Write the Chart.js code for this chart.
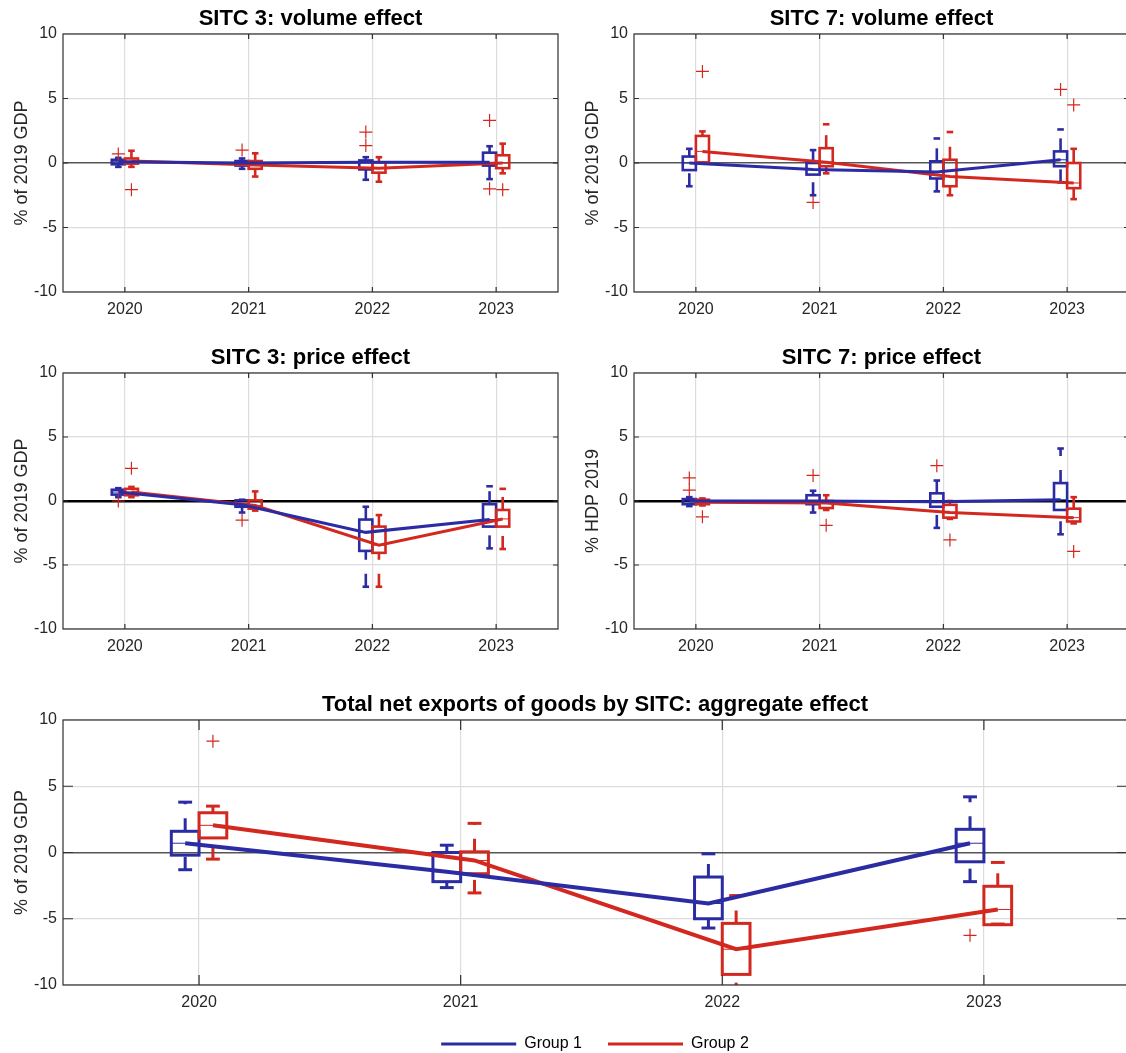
<!DOCTYPE html>
<html>
<head>
<meta charset="utf-8">
<script src="https://cdn.jsdelivr.net/npm/chart.js@4.4.1/dist/chart.umd.min.js"></script>
<style>
  html, body { margin: 0; padding: 0; background: #fff; overflow: hidden; width: 1126px; height: 1053px; }
  canvas { position: absolute; }
</style>
</head>
<body>
<canvas id="vol3" width="571" height="322" style="left:0;top:0"></canvas>
<canvas id="vol7" width="571" height="322" style="left:571px;top:0"></canvas>
<canvas id="price3" width="571" height="319" style="left:0;top:340px"></canvas>
<canvas id="price7" width="571" height="319" style="left:571px;top:340px"></canvas>
<canvas id="total" width="1190" height="372" style="left:0;top:690px"></canvas>
<script>
const years = [2020, 2021, 2022, 2023];
const groupNames = ["Group 1", "Group 2"];

// box stats per year: lower whisker, q1, median, q3, upper whisker
// SITC 3: volume effect
const vol3G1 = { lo: [-0.3, -0.45, -1.3, -1.25], q1: [-0.1, -0.2, -0.5, -0.2], med: [0.1, 0.0, 0.05, 0.05], q3: [0.25, 0.15, 0.2, 0.8], hi: [0.4, 0.35, 0.45, 1.3] };
const vol3G2 = { lo: [-0.3, -1.05, -1.45, -0.8], q1: [-0.05, -0.45, -0.75, -0.4], med: [0.15, -0.15, -0.4, 0.0], q3: [0.35, 0.15, 0.05, 0.6], hi: [0.95, 0.75, 0.45, 1.5] };
// outliers: [year, group index, value]
const vol3Out = [[2020, 0, 0.7], [2020, 1, -2.07], [2021, 0, 1.0], [2022, 0, 2.4], [2022, 0, 1.35], [2023, 0, 3.3], [2023, 0, -2.0], [2023, 1, -2.07]];

// SITC 7: volume effect
const vol7G1 = { lo: [-1.8, -2.5, -2.2, -1.5], q1: [-0.55, -0.9, -1.2, -0.25], med: [0.0, -0.5, -0.7, 0.25], q3: [0.5, 0.0, 0.13, 0.9], hi: [1.1, 1.0, 1.9, 2.6] };
const vol7G2 = { lo: [0.0, -0.8, -2.5, -2.8], q1: [0.05, -0.25, -1.8, -1.95], med: [0.9, 0.05, -1.05, -1.55], q3: [2.1, 1.15, 0.25, 0.0], hi: [2.45, 3.0, 2.4, 1.1] };
const vol7Out = [[2020, 1, 7.1], [2021, 0, -3.06], [2023, 0, 5.7], [2023, 1, 4.5]];

// SITC 3: price effect
const price3G1 = { lo: [0.3, -0.9, -6.7, -3.7], q1: [0.5, -0.45, -3.9, -2.0], med: [0.7, -0.3, -2.45, -1.45], q3: [0.88, 0.05, -1.45, -0.25], hi: [1.0, 0.1, -0.45, 1.15] };
const price3G2 = { lo: [0.3, -0.75, -6.7, -3.75], q1: [0.45, -0.6, -4.05, -2.0], med: [0.7, -0.35, -3.45, -1.4], q3: [0.95, 0.05, -2.0, -0.7], hi: [1.1, 0.75, -1.1, 0.95] };
const price3Out = [[2020, 0, 0.0], [2020, 1, 2.55], [2021, 0, -1.5]];

// SITC 7: price effect
const price7G1 = { lo: [-0.4, -0.9, -2.1, -2.6], q1: [-0.25, -0.25, -0.45, -0.7], med: [0.0, 0.0, -0.05, 0.1], q3: [0.15, 0.45, 0.6, 1.4], hi: [0.3, 0.8, 1.6, 4.1] };
const price7G2 = { lo: [-0.35, -0.7, -1.4, -1.75], q1: [-0.25, -0.55, -1.3, -1.6], med: [-0.1, -0.15, -0.9, -1.3], q3: [0.1, 0.0, -0.3, -0.6], hi: [0.2, 0.45, 0.0, 0.3] };
const price7Out = [[2020, 0, 1.8], [2020, 0, 0.85], [2020, 1, -1.24], [2021, 0, 2.0], [2021, 1, -1.9], [2022, 0, 2.76], [2022, 1, -3.04], [2023, 1, -3.94]];

// Total net exports of goods: aggregate effect
const totalG1 = { lo: [-1.3, -2.65, -5.7, -2.2], q1: [-0.2, -2.2, -5.0, -0.7], med: [0.7, -1.45, -3.85, 0.7], q3: [1.6, 0.0, -1.85, 1.75], hi: [3.8, 0.55, -0.1, 4.2] };
const totalG2 = { lo: [-0.5, -3.05, -10.8, -5.4], q1: [1.1, -1.6, -9.2, -5.45], med: [2.05, -0.6, -7.3, -4.3], q3: [3.0, 0.05, -5.35, -2.55], hi: [3.5, 2.2, -3.25, -0.75] };
const totalOut = [[2020, 1, 8.4], [2023, 0, -6.25]];

const COLORS = ["#2b2ba3", "#d3281f"];
const OUTLIER = "#d3281f";
const BOX_OFF = 0.053;
const BOX_HALF = 0.053;
const FONT = "'Liberation Sans', Arial, Helvetica, sans-serif";

Chart.defaults.font.family = FONT;
Chart.defaults.color = "#262626";

// draws boxes + dashed whiskers, then frame and inside ticks
function makeBoxPlugin(groups, lw, tickLen) {
    return {
        id: "boxes",
        beforeDatasetsDraw(chart) {
            const { ctx, chartArea: a, scales: { x, y } } = chart;
            const seg = (x1, y1, x2, y2) => {
                ctx.beginPath();
                ctx.moveTo(x1, y1);
                ctx.lineTo(x2, y2);
                ctx.stroke();
            };
            ctx.save();
            ctx.beginPath();
            ctx.rect(a.left, a.top, a.right - a.left, a.bottom - a.top);
            ctx.clip();
            groups.forEach((g, gi) => {
                const off = gi === 0 ? -BOX_OFF : BOX_OFF;
                ctx.strokeStyle = COLORS[gi];
                years.forEach((yr, i) => {
                    const cx = x.getPixelForValue(yr + off);
                    const hw = x.getPixelForValue(yr + off + BOX_HALF) - cx;
                    const pLo = y.getPixelForValue(g.lo[i]);
                    const pQ1 = y.getPixelForValue(g.q1[i]);
                    const pMed = y.getPixelForValue(g.med[i]);
                    const pQ3 = y.getPixelForValue(g.q3[i]);
                    const pHi = y.getPixelForValue(g.hi[i]);

                    ctx.lineWidth = lw;
                    ctx.lineCap = "butt";
                    ctx.setLineDash([13, 14]);
                    seg(cx, pLo, cx, pQ1);
                    seg(cx, pQ3, cx, pHi);
                    ctx.setLineDash([]);
                    seg(cx - hw / 2, pLo, cx + hw / 2, pLo);
                    seg(cx - hw / 2, pHi, cx + hw / 2, pHi);
                    ctx.strokeRect(cx - hw, pQ3, 2 * hw, pQ1 - pQ3);

                    ctx.lineWidth = 1;
                    seg(cx - hw, pMed, cx + hw, pMed);
                });
            });
            ctx.restore();
        },
        afterDraw(chart) {
            const { ctx, chartArea: a, scales: { x, y } } = chart;
            ctx.save();
            ctx.strokeStyle = "#303030";
            ctx.lineWidth = 1.2;
            ctx.strokeRect(a.left, a.top, a.right - a.left, a.bottom - a.top);
            ctx.beginPath();
            years.forEach(yr => {
                const px = x.getPixelForValue(yr);
                ctx.moveTo(px, a.bottom); ctx.lineTo(px, a.bottom - tickLen);
                ctx.moveTo(px, a.top); ctx.lineTo(px, a.top + tickLen);
            });
            [-5, 0, 5].forEach(v => {
                const py = y.getPixelForValue(v);
                ctx.moveTo(a.left, py); ctx.lineTo(a.left + tickLen, py);
                ctx.moveTo(a.right, py); ctx.lineTo(a.right - tickLen, py);
            });
            ctx.stroke();
            ctx.restore();
        }
    };
}

function makePanel(id, p) {
    const datasets = [p.g1, p.g2].map((g, gi) => ({
        label: groupNames[gi],
        data: years.map((yr, i) => ({ x: yr + (gi === 0 ? -BOX_OFF : BOX_OFF), y: g.med[i] })),
        borderColor: COLORS[gi],
        backgroundColor: COLORS[gi],
        borderWidth: p.lineW,
        pointRadius: 0,
        fill: false,
        tension: 0
    }));
    datasets.push({
        label: "Outliers",
        type: "scatter",
        data: p.out.map(o => ({ x: o[0] + (o[1] === 0 ? -BOX_OFF : BOX_OFF), y: o[2] })),
        pointStyle: "cross",
        pointRadius: 6.5,
        borderColor: OUTLIER,
        backgroundColor: OUTLIER,
        borderWidth: 1.2,
        pointBorderWidth: 1.2,
        showLine: false
    });

    new Chart(document.getElementById(id), {
        type: "line",
        data: { datasets },
        plugins: [makeBoxPlugin([p.g1, p.g2], p.boxW, p.tick)],
        options: {
            responsive: false,
            animation: false,
            layout: { padding: { left: 0, right: p.padRight, top: 0, bottom: 0 } },
            plugins: {
                tooltip: { enabled: false },
                title: {
                    display: true,
                    text: p.title,
                    fullSize: false,
                    color: "#000",
                    font: { size: 22, weight: "bold", lineHeight: 1.2 },
                    padding: p.titlePad
                },
                legend: p.legend ? {
                    display: true,
                    position: "bottom",
                    fullSize: false,
                    labels: {
                        boxWidth: 75,
                        boxHeight: 3,
                        padding: 26,
                        color: "#262626",
                        font: { size: 16 },
                        generateLabels: () => groupNames.map((n, i) => ({
                            text: n, fillStyle: COLORS[i], strokeStyle: COLORS[i],
                            lineWidth: 0, hidden: false, datasetIndex: i
                        }))
                    }
                } : { display: false }
            },
            scales: {
                x: {
                    type: "linear",
                    min: p.xmin,
                    max: p.xmax,
                    afterBuildTicks: s => { s.ticks = years.map(v => ({ value: v })); },
                    afterFit: s => { s.height = p.xH; },
                    grid: { color: "#dcdcdc", lineWidth: 1.2, drawTicks: false },
                    border: { display: false },
                    ticks: { padding: 8, font: { size: 16 }, color: "#262626", callback: v => String(v) }
                },
                y: {
                    min: -10,
                    max: 10,
                    afterFit: s => { s.width = 63; },
                    grid: {
                        color: c => c.tick.value === 0 ? p.zeroColor : "#dcdcdc",
                        lineWidth: c => c.tick.value === 0 ? p.zeroW : 1.2,
                        drawTicks: false
                    },
                    border: { display: false },
                    ticks: { stepSize: 5, padding: 6, font: { size: 16 }, color: "#262626" },
                    title: { display: true, text: p.ylabel, font: { size: 18 }, color: "#262626", padding: { top: 11, bottom: 0 } }
                }
            }
        }
    });
}

const small = { xmin: 2019.5, xmax: 2023.5, padRight: 13, xH: 30, lineW: 3, boxW: 2.6, tick: 5 };

makePanel("vol3", { ...small, title: "SITC 3: volume effect", ylabel: "% of 2019 GDP", g1: vol3G1, g2: vol3G2, out: vol3Out,
    zeroColor: "#555", zeroW: 1.5, titlePad: { top: 6, bottom: 1.6 } });
makePanel("vol7", { ...small, title: "SITC 7: volume effect", ylabel: "% of 2019 GDP", g1: vol7G1, g2: vol7G2, out: vol7Out,
    zeroColor: "#555", zeroW: 1.5, titlePad: { top: 6, bottom: 1.6 } });
makePanel("price3", { ...small, title: "SITC 3: price effect", ylabel: "% of 2019 GDP", g1: price3G1, g2: price3G2, out: price3Out,
    zeroColor: "#000", zeroW: 2.5, titlePad: { top: 5, bottom: 1.6 } });
makePanel("price7", { ...small, title: "SITC 7: price effect", ylabel: "% HDP 2019", g1: price7G1, g2: price7G2, out: price7Out,
    zeroColor: "#000", zeroW: 2.5, titlePad: { top: 5, bottom: 1.6 } });
makePanel("total", { xmin: 2019.48, xmax: 2023.547, padRight: 63, xH: 25, lineW: 4, boxW: 3, tick: 10,
    title: "Total net exports of goods by SITC: aggregate effect", ylabel: "% of 2019 GDP", g1: totalG1, g2: totalG2, out: totalOut,
    zeroColor: "#555", zeroW: 1.5, titlePad: { top: 2, bottom: 1.6 }, legend: true });
</script>
</body>
</html>
